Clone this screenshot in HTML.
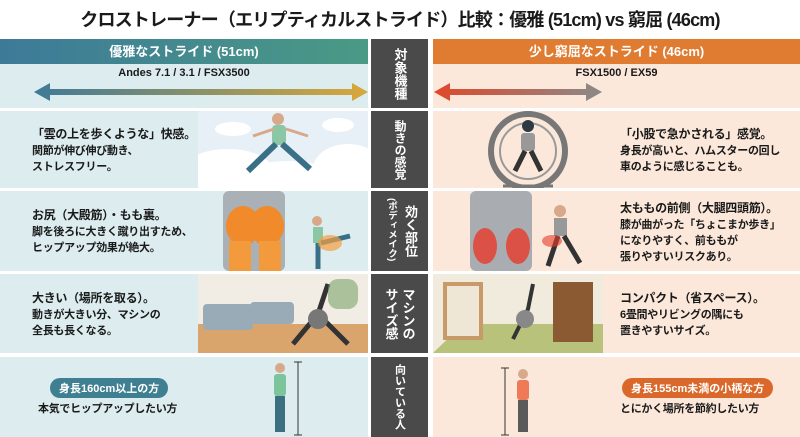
<!DOCTYPE html>
<html><head><meta charset="utf-8"><style>
*{margin:0;padding:0;box-sizing:border-box}
body{width:800px;height:437px;background:#fff;font-family:"Liberation Sans","Noto Sans CJK JP",sans-serif;position:relative;overflow:hidden;color:#1a1a1a}
.a{position:absolute}
.title{left:0;top:6px;width:800px;text-align:center;font-size:18px;font-weight:bold;letter-spacing:-0.8px}
.L{background:#dcecef}
.R{background:#fbe8da}
.M{background:#4a4a4a;color:#fff;font-size:12px;line-height:15px;writing-mode:vertical-rl;display:flex;align-items:center;justify-content:center;font-weight:bold;letter-spacing:0}
.v{writing-mode:vertical-rl;color:#fff;font-weight:bold;white-space:nowrap;position:absolute}
.t{font-size:11px;font-weight:bold;line-height:16px;white-space:nowrap;letter-spacing:-0.3px}
.t .big{font-size:12px}
.pill{border-radius:10px;color:#fff;font-size:11px;font-weight:bold;padding:2px 9px;white-space:nowrap}
</style></head><body>
<div class="a title">クロストレーナー（エリプティカルストライド）比較：優雅 (51cm) vs 窮屈 (46cm)</div>

<div class="a" style="left:0;top:39px;width:368px;height:25px;background:linear-gradient(90deg,#3d7a98,#4a9a85);color:#fff;font-weight:bold;font-size:13px;text-align:center;line-height:25px">優雅なストライド (51cm)</div>
<div class="a" style="left:433px;top:39px;width:367px;height:25px;background:#e07b32;color:#fff;font-weight:bold;font-size:13px;text-align:center;line-height:25px">少し窮屈なストライド (46cm)</div>
<div class="a L" style="left:0;top:64px;width:368px;height:44px"></div>
<div class="a R" style="left:433px;top:64px;width:367px;height:44px"></div>
<div class="a" style="left:0;top:67px;width:368px;text-align:center;font-size:11px;font-weight:bold">Andes 7.1 / 3.1 / FSX3500</div>
<div class="a" style="left:433px;top:67px;width:367px;text-align:center;font-size:11px;font-weight:bold">FSX1500 / EX59</div>
<svg class="a" style="left:0;top:80px" width="800" height="25">
<defs><linearGradient id="g1" x1="0" x2="1"><stop offset="0" stop-color="#3e7a98"/><stop offset="1" stop-color="#d9a83a"/></linearGradient>
<linearGradient id="g2" x1="0" x2="1"><stop offset="0" stop-color="#e0482a"/><stop offset="1" stop-color="#8a8a8a"/></linearGradient></defs>
<polygon points="34,12 50,3 50,9 352,9 352,3 368,12 352,21 352,15 50,15 50,21" fill="url(#g1)"/>
<polygon points="434,12 450,3 450,9 586,9 586,3 602,12 586,21 586,15 450,15 450,21" fill="url(#g2)"/>
</svg>
<div class="a M" style="left:371px;top:39px;width:57px;height:69px;font-size:13px;line-height:16px">対象機種</div>

<!-- row1 -->
<div class="a L" style="left:0;top:111px;width:368px;height:77px"></div>
<div class="a R" style="left:433px;top:111px;width:367px;height:77px"></div>
<div class="a M" style="left:371px;top:111px;width:57px;height:77px">動きの感覚</div>
<svg class="a" style="left:198px;top:111px" width="170" height="77">
<rect width="170" height="77" fill="#e6f0f6"/>
<ellipse cx="30" cy="60" rx="45" ry="22" fill="#fff"/><ellipse cx="90" cy="68" rx="50" ry="18" fill="#fff"/><ellipse cx="150" cy="58" rx="35" ry="25" fill="#fff"/>
<ellipse cx="35" cy="18" rx="18" ry="7" fill="#fff"/><ellipse cx="140" cy="14" rx="16" ry="7" fill="#fff"/>
<circle cx="80" cy="8" r="6" fill="#d7a98a"/><rect x="74" y="14" width="14" height="20" rx="4" fill="#8cc7a5"/>
<line x1="78" y1="33" x2="50" y2="60" stroke="#3a6f88" stroke-width="6"/><line x1="84" y1="33" x2="112" y2="58" stroke="#3a6f88" stroke-width="6"/>
<line x1="76" y1="18" x2="55" y2="25" stroke="#d7a98a" stroke-width="3"/><line x1="88" y1="18" x2="110" y2="25" stroke="#d7a98a" stroke-width="3"/>
</svg>
<div class="a t" style="left:32px;top:126px"><span class="big">「雲の上を歩くような」快感。</span><br>関節が伸び伸び動き、<br>ストレスフリー。</div>
<svg class="a" style="left:433px;top:111px" width="170" height="77">
<circle cx="95" cy="40" r="37" fill="none" stroke="#777" stroke-width="6"/><circle cx="95" cy="40" r="28" fill="none" stroke="#999" stroke-width="2"/>
<circle cx="95" cy="15" r="6" fill="#2b3a44"/><rect x="88" y="22" width="14" height="18" rx="3" fill="#999"/>
<line x1="92" y1="40" x2="82" y2="60" stroke="#333" stroke-width="5"/><line x1="98" y1="40" x2="108" y2="60" stroke="#333" stroke-width="5"/>
<line x1="70" y1="75" x2="120" y2="75" stroke="#777" stroke-width="3"/>
</svg>
<div class="a t" style="left:620px;top:126px"><span class="big">「小股で急かされる」感覚。</span><br>身長が高いと、ハムスターの回し<br>車のように感じることも。</div>

<!-- row2 -->
<div class="a L" style="left:0;top:191px;width:368px;height:80px"></div>
<div class="a R" style="left:433px;top:191px;width:367px;height:80px"></div>
<div class="a" style="left:371px;top:191px;width:57px;height:80px;background:#4a4a4a"></div>
<div class="v" style="left:403px;top:205px;font-size:13px;line-height:15px">効く部位</div>
<div class="v" style="left:385px;top:198px;font-size:9.5px;line-height:12px">(ボディメイク)</div>
<svg class="a" style="left:205px;top:191px" width="165" height="80">
<rect x="18" y="0" width="62" height="80" fill="#a9b0b6" rx="6"/>
<ellipse cx="38" cy="35" rx="17" ry="20" fill="#f08a2a"/><ellipse cx="62" cy="35" rx="17" ry="20" fill="#f08a2a"/>
<rect x="24" y="50" width="22" height="30" fill="#f29a3c"/><rect x="54" y="50" width="22" height="30" fill="#f29a3c"/>
<circle cx="112" cy="30" r="5" fill="#d7a98a"/><rect x="108" y="36" width="10" height="16" fill="#8cc7a5"/>
<line x1="113" y1="52" x2="113" y2="78" stroke="#3a6f88" stroke-width="5"/><line x1="116" y1="52" x2="145" y2="45" stroke="#3a6f88" stroke-width="5"/>
<ellipse cx="125" cy="52" rx="12" ry="8" fill="#f5a040" opacity=".7"/>
</svg>
<div class="a t" style="left:32px;top:207px"><span class="big">お尻（大殿筋）・もも裏。</span><br>脚を後ろに大きく蹴り出すため、<br>ヒップアップ効果が絶大。</div>
<svg class="a" style="left:440px;top:191px" width="170" height="80">
<rect x="30" y="0" width="62" height="80" fill="#a9adb2" rx="6"/>
<ellipse cx="45" cy="55" rx="12" ry="18" fill="#e83a2a" opacity=".8"/><ellipse cx="78" cy="55" rx="12" ry="18" fill="#e83a2a" opacity=".8"/>
<circle cx="120" cy="20" r="6" fill="#d7a98a"/><rect x="114" y="27" width="13" height="18" fill="#999"/>
<line x1="118" y1="45" x2="108" y2="75" stroke="#333" stroke-width="5"/><line x1="124" y1="45" x2="140" y2="72" stroke="#333" stroke-width="5"/>
<ellipse cx="112" cy="50" rx="10" ry="6" fill="#e83a2a" opacity=".6"/>
</svg>
<div class="a t" style="left:620px;top:200px"><span class="big">太ももの前側（大腿四頭筋）。</span><br>膝が曲がった「ちょこまか歩き」<br>になりやすく、前ももが<br>張りやすいリスクあり。</div>

<!-- row3 -->
<div class="a L" style="left:0;top:274px;width:368px;height:79px"></div>
<div class="a R" style="left:433px;top:274px;width:367px;height:79px"></div>
<div class="a M" style="left:371px;top:274px;width:57px;height:79px;font-size:13px;line-height:17px">マシンの<br>サイズ感</div>
<svg class="a" style="left:198px;top:274px" width="170" height="79">
<rect width="170" height="79" fill="#f2ede4"/><rect y="50" width="170" height="29" fill="#d9a56d"/>
<rect x="5" y="30" width="50" height="26" rx="4" fill="#9aabb8"/><rect x="52" y="28" width="44" height="22" rx="4" fill="#9aabb8"/>
<path d="M95 70 L120 40 L130 10 M120 40 L150 70" stroke="#333" stroke-width="5" fill="none"/><circle cx="120" cy="45" r="10" fill="#777"/>
<rect x="130" y="5" width="30" height="30" fill="#7aa36a" opacity=".6" rx="10"/>
</svg>
<div class="a t" style="left:32px;top:290px"><span class="big">大きい（場所を取る）。</span><br>動きが大きい分、マシンの<br>全長も長くなる。</div>
<svg class="a" style="left:433px;top:274px" width="170" height="79">
<rect width="170" height="79" fill="#f1ebde"/><polygon points="0,79 30,50 170,50 170,79" fill="#b8c27a"/>
<rect x="10" y="8" width="40" height="58" fill="#c89a6a"/><rect x="14" y="12" width="32" height="50" fill="#efe7d6"/>
<rect x="120" y="8" width="40" height="60" fill="#8b5a32"/>
<path d="M80 65 L95 35 L100 10" stroke="#333" stroke-width="4" fill="none"/><circle cx="92" cy="45" r="9" fill="#888"/>
</svg>
<div class="a t" style="left:620px;top:290px"><span class="big">コンパクト（省スペース）。</span><br>6畳間やリビングの隅にも<br>置きやすいサイズ。</div>

<!-- row4 -->
<div class="a L" style="left:0;top:357px;width:368px;height:80px"></div>
<div class="a R" style="left:433px;top:357px;width:367px;height:80px"></div>
<div class="a M" style="left:371px;top:357px;width:57px;height:80px;font-size:11px;line-height:12px">向いている人</div>
<div class="a pill" style="left:50px;top:378px;background:#3f7f92">身長160cm以上の方</div>
<div class="a t" style="left:38px;top:401px">本気でヒップアップしたい方</div>
<svg class="a" style="left:260px;top:360px" width="50" height="77">
<line x1="38" y1="2" x2="38" y2="75" stroke="#333" stroke-width="1"/><line x1="34" y1="2" x2="42" y2="2" stroke="#333"/><line x1="34" y1="75" x2="42" y2="75" stroke="#333"/>
<circle cx="20" cy="8" r="5" fill="#d7a98a"/><rect x="14" y="14" width="12" height="22" rx="3" fill="#7cc49c"/>
<rect x="15" y="36" width="10" height="36" fill="#3a7080"/>
</svg>
<svg class="a" style="left:495px;top:360px" width="50" height="77">
<line x1="10" y1="8" x2="10" y2="75" stroke="#333" stroke-width="1"/><line x1="6" y1="8" x2="14" y2="8" stroke="#333"/><line x1="6" y1="75" x2="14" y2="75" stroke="#333"/>
<circle cx="28" cy="14" r="5" fill="#d7a98a"/><rect x="22" y="20" width="12" height="20" rx="3" fill="#ef7a58"/>
<rect x="23" y="40" width="10" height="32" fill="#5a5a5a"/>
</svg>
<div class="a pill" style="left:622px;top:378px;background:#d9682a">身長155cm未満の小柄な方</div>
<div class="a t" style="left:620px;top:401px">とにかく場所を節約したい方</div>
</body></html>
